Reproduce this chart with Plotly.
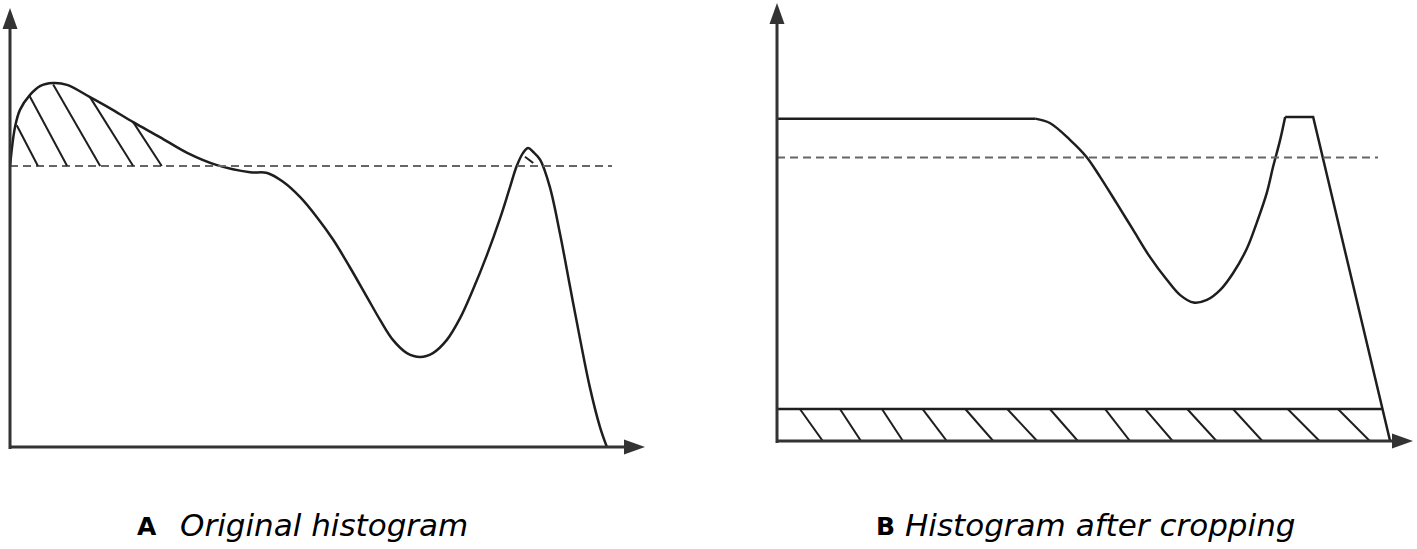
import plotly.graph_objects as go

W, H = 1417, 549

# ---- panel A: original histogram (x = grey level 0-100, y = count 0-100) ----
a_x = [0, 0.79, 1.57, 3.15, 4.72, 6.77, 8.98, 12.6, 15.7, 19.4, 23.6, 27.9,
       32.6, 37.8, 40.5, 43.0, 45.7, 48.3, 50.9, 53.5, 56.2, 58.3, 60.3, 62.5, 64.6, 66.6,
       68.8, 70.9, 72.9, 75.1, 77.2, 78.7, 79.8, 80.8, 81.6, 82.4, 83.5, 85.0, 86.6, 88.2,
       89.8, 91.3, 92.9, 94.0]
a_y = [64.0, 72.9, 76.8, 80.2, 82.2, 82.9, 82.5, 79.7, 77.2, 74.0, 70.6, 67.0,
       64.2, 62.6, 62.4, 60.4, 56.9, 52.4, 47.2, 41.0, 34.2, 28.9, 24.4, 21.4, 20.5, 21.4,
       24.4, 29.4, 35.8, 43.7, 52.2, 59.0, 64.0, 67.0, 68.1, 67.2, 65.4, 59.3, 48.7, 36.5,
       24.4, 13.7, 4.6, 0]
a_clip = 64.0
a_clip_end = 94.8
# hatch strokes of the part above the clip limit
a_hatch_x0 = [1.06, 3.0, 6.8, 12.6, 19.4, 81.1]
a_hatch_y0 = [73.3, 80.2, 82.6, 79.7, 74.0, 66.1]
a_hatch_x1 = [4.4, 9.0, 14.2, 19.4, 23.9, 82.4]
a_hatch_y1 = [64.0, 64.0, 64.0, 64.0, 64.0, 64.7]

# ---- panel B: histogram after cropping ----
b_x = [0, 40.6, 42.9, 46.1, 48.7, 50.8, 53.4, 56.0, 58.6, 61.3, 63.4, 65.5, 67.6,
       69.7, 71.7, 73.9, 75.4, 77.0, 78.0, 79.1, 79.9]
b_y = [73.6, 73.6, 72.6, 68.7, 64.8, 60.3, 54.3, 48.2, 42.1, 36.8, 33.3, 31.6, 32.2,
       34.5, 38.3, 44.0, 49.7, 56.6, 62.6, 68.7, 74.0]
b_top_x = [79.9, 84.3, 96.4]
b_top_y = [74.0, 74.0, 0]
b_clip = 64.7
b_clip_end = 94.5
b_band = 7.3
b_band_end = 95.1
b_hatch_x0 = [3.6, 9.9, 16.5, 22.9, 29.6, 36.2, 42.9, 51.6, 57.9, 64.5, 71.7, 80.3, 88.2]
b_hatch_x1 = [7.2, 13.2, 19.8, 26.7, 34.0, 40.9, 47.3, 55.5, 62.2, 69.1, 76.3, 85.3, 93.2]

labels = [("A", "Original histogram"), ("B", "Histogram after cropping")]

INK = "#1e1e1e"
DASH = dict(color="#666666", width=2, dash="8px,5px")


def px(x):
    return x / W


def py(y):
    return 1 - y / H


def segs(x0, y0, x1, y1):
    xs, ys = [], []
    for a, b, c, d in zip(x0, y0, x1, y1):
        xs += [a, c, None]
        ys += [b, d, None]
    return xs, ys


def line(x, y, ax, width=2.5, spline=False):
    ln = dict(color=INK, width=width)
    if spline:
        ln.update(shape="spline", smoothing=1.0)
    return go.Scatter(x=x, y=y, mode="lines", line=ln, xaxis="x" + ax, yaxis="y" + ax)


fig = go.Figure()

# panel A
fig.add_trace(line(a_x, a_y, "", spline=True))
fig.add_trace(go.Scatter(x=[0, a_clip_end], y=[a_clip, a_clip], mode="lines", line=DASH, xaxis="x", yaxis="y"))
hx, hy = segs(a_hatch_x0, a_hatch_y0, a_hatch_x1, a_hatch_y1)
fig.add_trace(line(hx, hy, "", width=2))

# panel B
fig.add_trace(line(b_x[:2], b_y[:2], "2"))
fig.add_trace(line(b_x[1:], b_y[1:], "2", spline=True))
fig.add_trace(line(b_top_x, b_top_y, "2"))
fig.add_trace(go.Scatter(x=[0, b_clip_end], y=[b_clip, b_clip], mode="lines", line=DASH, xaxis="x2", yaxis="y2"))
fig.add_trace(line([0, b_band_end], [b_band, b_band], "2"))
hx, hy = segs(b_hatch_x0, [b_band] * len(b_hatch_x0), b_hatch_x1, [0] * len(b_hatch_x1))
fig.add_trace(line(hx, hy, "2", width=2))

# axes with arrow heads (pixel positions of origin and tips)
axes_px = [dict(ox=10, oy=447, xtip=645, ytip=8), dict(ox=777, oy=441, xtip=1413, ytip=3)]
shapes = []
L, HW = 21, 7.5
for a in axes_px:
    shapes.append(dict(type="line", xref="paper", yref="paper", x0=px(a["ox"]), y0=py(a["oy"] + 2),
                       x1=px(a["ox"]), y1=py(a["ytip"] + L - 2), line=dict(color="#333333", width=3)))
    shapes.append(dict(type="line", xref="paper", yref="paper", x0=px(a["ox"] - 1), y0=py(a["oy"]),
                       x1=px(a["xtip"] - L + 2), y1=py(a["oy"]), line=dict(color="#333333", width=3)))
    t = a["ytip"]
    shapes.append(dict(type="path", xref="paper", yref="paper", fillcolor="#333333", line=dict(width=0),
                       path="M%f,%f L%f,%f L%f,%f Z" % (px(a["ox"]), py(t), px(a["ox"] - HW), py(t + L),
                                                       px(a["ox"] + HW), py(t + L))))
    t = a["xtip"]
    shapes.append(dict(type="path", xref="paper", yref="paper", fillcolor="#333333", line=dict(width=0),
                       path="M%f,%f L%f,%f L%f,%f Z" % (px(t), py(a["oy"]), px(t - L), py(a["oy"] - HW),
                                                       px(t - L), py(a["oy"] + HW))))

# panel captions
annotations = []
for (letter, text), lx, tx in zip(labels, [135, 874], [178, 903]):
    annotations.append(dict(text="<b>%s</b>" % letter, xref="paper", yref="paper", x=px(lx), y=py(543),
                            xanchor="left", yanchor="bottom", showarrow=False,
                            font=dict(family="DejaVu Sans", size=25, color="black")))
    annotations.append(dict(text="<i>%s</i>" % text, xref="paper", yref="paper", x=px(tx), y=py(545),
                            xanchor="left", yanchor="bottom", showarrow=False,
                            font=dict(family="DejaVu Sans", size=31, color="black")))

ax = dict(visible=False, fixedrange=True)
fig.update_layout(
    width=W, height=H, margin=dict(l=0, r=0, t=0, b=0),
    paper_bgcolor="white", plot_bgcolor="white", showlegend=False,
    xaxis=dict(ax, domain=[px(10), px(645)], range=[0, 100]),
    yaxis=dict(ax, domain=[py(447), py(8)], range=[0, 100]),
    xaxis2=dict(ax, domain=[px(777), px(1413)], range=[0, 100]),
    yaxis2=dict(ax, domain=[py(441), py(3)], range=[0, 100]),
    shapes=shapes, annotations=annotations,
)

fig.write_html("out.html", config={"displayModeBar": False},
               post_script="document.body.style.margin='0';document.body.style.overflow='hidden';")
